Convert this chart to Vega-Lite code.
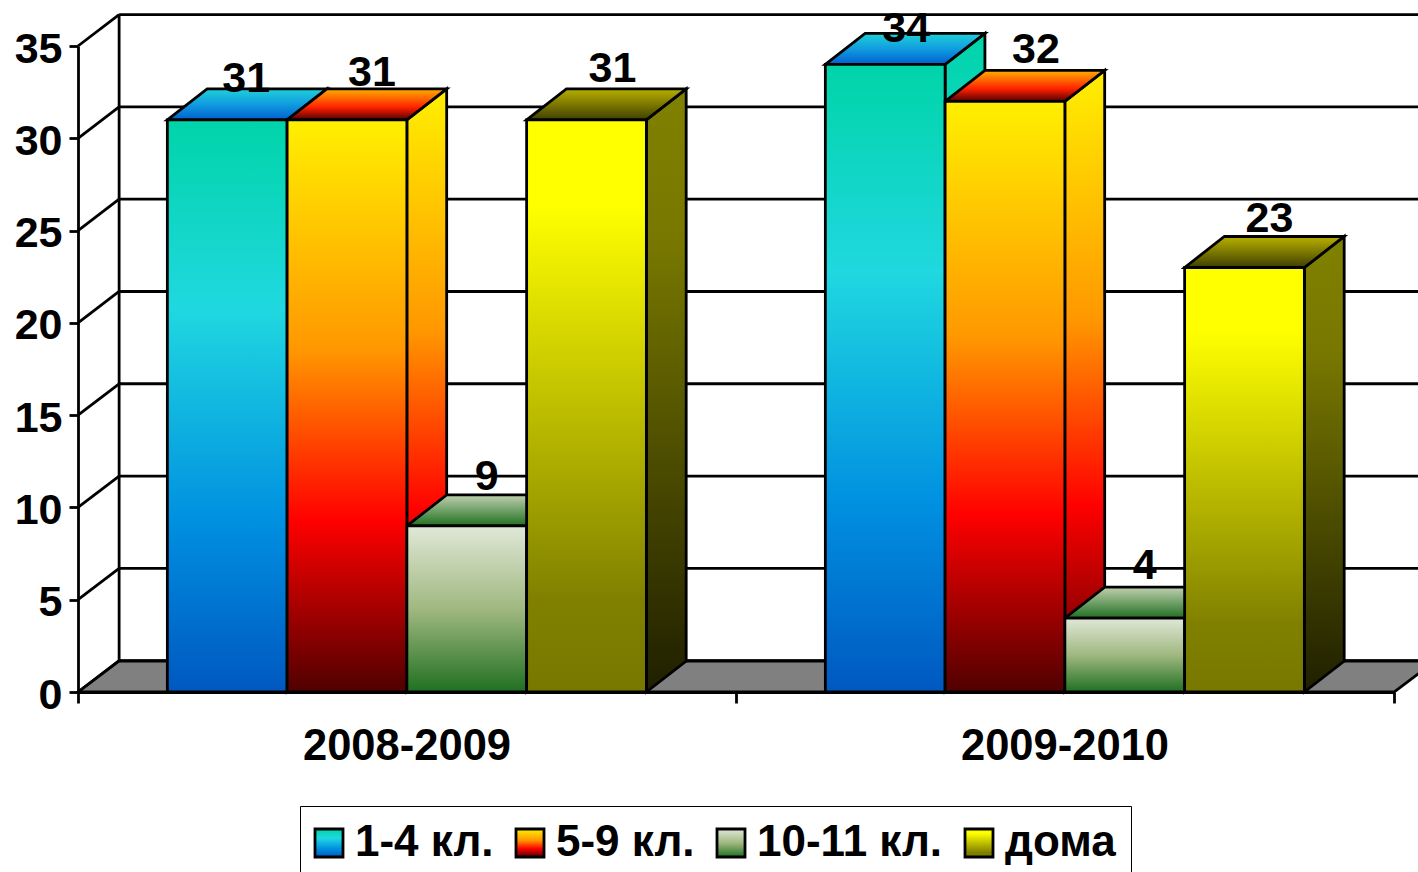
{"$schema":"https://vega.github.io/schema/vega-lite/v6.json","width":1316,"height":646,"padding":{"left":78,"top":46,"right":24,"bottom":180},"autosize":{"type":"none"},"background":"white","config":{"view":{"stroke":null},"font":"Liberation Sans"},
"datasets":{"bars":[{"year":"2008-2009","series":"1-4 кл.","value":31},{"year":"2008-2009","series":"5-9 кл.","value":31},{"year":"2008-2009","series":"10-11 кл.","value":9},{"year":"2008-2009","series":"дома","value":31},{"year":"2009-2010","series":"1-4 кл.","value":34},{"year":"2009-2010","series":"5-9 кл.","value":32},{"year":"2009-2010","series":"10-11 кл.","value":4},{"year":"2009-2010","series":"дома","value":23}],"ticks":[{"v":0},{"v":5},{"v":10},{"v":15},{"v":20},{"v":25},{"v":30},{"v":35}]},
"layer":[
{"data":{"values":[{"k":0},{"k":1},{"k":2},{"k":3}]},"transform":[{"calculate":"[0,0.0625,2,2.0625][datum.k]","as":"px"},{"calculate":"datum.k==3?1.68:0","as":"lo"},{"calculate":"datum.k==0?0:1.68","as":"hi"}],"mark":{"type":"area","fill":"#808080","stroke":"black","strokeWidth":2.8},"encoding":{"x":{"field":"px","type":"quantitative","scale":{"domain":[0,2],"nice":false,"zero":false},"axis":{"values":[0,1,2],"labels":false,"title":null,"grid":false,"domainColor":"black","domainWidth":2.8,"tickColor":"black","tickWidth":2.8,"tickSize":11,"zindex":1}},"y":{"field":"lo","type":"quantitative","scale":{"domain":[0,35],"nice":false},"axis":{"values":[0,5,10,15,20,25,30,35],"title":null,"grid":false,"domainColor":"black","domainWidth":2.8,"tickColor":"black","tickWidth":2.8,"tickSize":9,"labelFontSize":43,"labelFontWeight":"bold","labelColor":"black","labelPadding":7,"labelOffset":3,"labelFont":"Liberation Sans","zindex":1}},"y2":{"field":"hi"}}},
{"data":{"name":"ticks"},"transform":[{"calculate":"datum.v+1.7","as":"b"},{"calculate":"0.0625","as":"l"},{"calculate":"2.0625","as":"r"}],"mark":{"type":"rule","color":"black","strokeWidth":2.8},"encoding":{"x":{"field":"l","type":"quantitative"},"x2":{"field":"r"},"y":{"field":"b","type":"quantitative"}}},
{"data":{"name":"ticks"},"transform":[{"calculate":"datum.v+1.7","as":"b"},{"calculate":"0","as":"l"},{"calculate":"0.0625","as":"r"}],"mark":{"type":"rule","color":"black","strokeWidth":2.8},"encoding":{"x":{"field":"l","type":"quantitative"},"x2":{"field":"r"},"y":{"field":"v","type":"quantitative"},"y2":{"field":"b"}}},
{"data":{"name":"ticks"},"transform":[{"filter":"datum.v==35"},{"calculate":"1.7","as":"lo"},{"calculate":"36.7","as":"hi"},{"calculate":"0.0625","as":"l"}],"mark":{"type":"rule","color":"black","strokeWidth":2.8},"encoding":{"x":{"field":"l","type":"quantitative"},"y":{"field":"lo","type":"quantitative"},"y2":{"field":"hi"}}},
{"data":{"name":"bars"},"transform":[{"calculate":"datum.year=='2008-2009'?0:1","as":"g"},{"calculate":"indexof(['1-4 кл.','5-9 кл.','10-11 кл.','дома'],datum.series)","as":"s"},{"calculate":"datum.g+0.1358+(datum.s+1)*0.182","as":"x1"},{"calculate":"[0,1]","as":"k"},{"flatten":["k"]},{"calculate":"datum.x1+datum.k*0.0605","as":"px"},{"calculate":"datum.k*1.68","as":"lo"},{"calculate":"datum.value+datum.k*1.68","as":"hi"},{"calculate":"datum.year+datum.series","as":"key"}],"mark":{"type":"area","stroke":"black","strokeWidth":2.8},"encoding":{"x":{"field":"px","type":"quantitative"},"y":{"field":"lo","type":"quantitative","stack":null},"y2":{"field":"hi"},"detail":{"field":"key"},"fill":{"field":"series","type":"nominal","legend":null,"scale":{"domain":["1-4 кл.","5-9 кл.","10-11 кл.","дома"],"range":[{"expr":"{gradient:'linear',x1:0,y1:0,x2:0,y2:1,stops:[{offset:0,color:'#00d4a8'},{offset:0.33,color:'#20d8e0'},{offset:0.7,color:'#0090e0'},{offset:1,color:'#0058c0'}]}"},{"expr":"{gradient:'linear',x1:0,y1:0,x2:0,y2:1,stops:[{offset:0,color:'#fff000'},{offset:0.4,color:'#ff9800'},{offset:0.7,color:'#ff0000'},{offset:1,color:'#500000'}]}"},{"expr":"{gradient:'linear',x1:0,y1:0,x2:0,y2:1,stops:[{offset:0,color:'#e0e8d8'},{offset:0.5,color:'#a0b880'},{offset:1,color:'#207020'}]}"},{"expr":"{gradient:'linear',x1:0,y1:0,x2:0,y2:1,stops:[{offset:0,color:'#808000'},{offset:0.25,color:'#787800'},{offset:1,color:'#1f1f00'}]}"}]}}}},
{"data":{"name":"bars"},"transform":[{"calculate":"datum.year=='2008-2009'?0:1","as":"g"},{"calculate":"indexof(['1-4 кл.','5-9 кл.','10-11 кл.','дома'],datum.series)","as":"s"},{"calculate":"datum.g+0.1358+datum.s*0.182","as":"x0"},{"calculate":"[0,1,2,3]","as":"k"},{"flatten":["k"]},{"calculate":"datum.x0+[0,0.0605,0.182,0.2425][datum.k]","as":"px"},{"calculate":"datum.k==3?datum.value+1.68:datum.value","as":"lo"},{"calculate":"datum.k==0?datum.value:datum.value+1.68","as":"hi"},{"calculate":"datum.year+datum.series","as":"key"}],"mark":{"type":"area","stroke":"black","strokeWidth":2.8},"encoding":{"x":{"field":"px","type":"quantitative"},"y":{"field":"lo","type":"quantitative","stack":null},"y2":{"field":"hi"},"detail":{"field":"key"},"fill":{"field":"series","type":"nominal","legend":null,"scale":{"domain":["1-4 кл.","5-9 кл.","10-11 кл.","дома"],"range":[{"expr":"{gradient:'linear',x1:0,y1:0,x2:0,y2:1,stops:[{offset:0,color:'#20d0d8'},{offset:0.5,color:'#109ce0'},{offset:1,color:'#0060d0'}]}"},{"expr":"{gradient:'linear',x1:0,y1:0,x2:0,y2:1,stops:[{offset:0,color:'#ffb000'},{offset:0.6,color:'#ff2000'},{offset:1,color:'#500000'}]}"},{"expr":"{gradient:'linear',x1:0,y1:0,x2:0,y2:1,stops:[{offset:0,color:'#c0d0b0'},{offset:1,color:'#207020'}]}"},{"expr":"{gradient:'linear',x1:0,y1:0,x2:0,y2:1,stops:[{offset:0,color:'#b8b000'},{offset:1,color:'#404000'}]}"}]}}}},
{"data":{"name":"bars"},"transform":[{"calculate":"datum.year=='2008-2009'?0:1","as":"g"},{"calculate":"indexof(['1-4 кл.','5-9 кл.','10-11 кл.','дома'],datum.series)","as":"s"},{"calculate":"datum.g+0.1358+datum.s*0.182","as":"x0"},{"calculate":"datum.x0+0.182","as":"x1"},{"calculate":"0","as":"base"}],"mark":{"type":"bar","stroke":"black","strokeWidth":2.8},"encoding":{"x":{"field":"x0","type":"quantitative"},"x2":{"field":"x1"},"y":{"field":"value","type":"quantitative"},"y2":{"field":"base"},"fill":{"field":"series","type":"nominal","scale":{"domain":["1-4 кл.","5-9 кл.","10-11 кл.","дома"],"range":[{"expr":"{gradient:'linear',x1:0,y1:0,x2:0,y2:1,stops:[{offset:0,color:'#00d4a8'},{offset:0.33,color:'#20d8e0'},{offset:0.7,color:'#0090e0'},{offset:1,color:'#0058c0'}]}"},{"expr":"{gradient:'linear',x1:0,y1:0,x2:0,y2:1,stops:[{offset:0,color:'#fff000'},{offset:0.4,color:'#ff9800'},{offset:0.7,color:'#ff0000'},{offset:1,color:'#500000'}]}"},{"expr":"{gradient:'linear',x1:0,y1:0,x2:0,y2:1,stops:[{offset:0,color:'#e0e8d8'},{offset:0.5,color:'#a0b880'},{offset:1,color:'#207020'}]}"},{"expr":"{gradient:'linear',x1:0,y1:0,x2:0,y2:1,stops:[{offset:0,color:'#ffff00'},{offset:0.15,color:'#ffff00'},{offset:0.84,color:'#808000'},{offset:1,color:'#787800'}]}"}]},"legend":{"title":null,"orient":"none","legendX":222,"legendY":760,"direction":"horizontal","columns":4,"gridAlign":"none","symbolType":"square","symbolSize":784,"symbolOffset":-8,"symbolStrokeColor":"black","symbolStrokeWidth":2.8,"labelFontSize":44,"labelFontWeight":"bold","labelColor":"black","labelFont":"Liberation Sans","labelOffset":4,"columnPadding":16,"strokeColor":"black","fillColor":"white","padding":15,"labelLimit":400}}}},
{"data":{"name":"bars"},"transform":[{"calculate":"datum.year=='2008-2009'?0:1","as":"g"},{"calculate":"indexof(['1-4 кл.','5-9 кл.','10-11 кл.','дома'],datum.series)","as":"s"},{"calculate":"datum.g+0.1358+(datum.s+0.5)*0.182+[19,25,20,26,21,31,20,25][datum.g*4+datum.s]/658","as":"lx"},{"calculate":"datum.value+[41,47,49,51,35,51,52,48][datum.g*4+datum.s]/18.457","as":"ly"}],"mark":{"type":"text","fontSize":43,"fontWeight":"bold","font":"Liberation Sans","color":"black","baseline":"middle","align":"center"},"encoding":{"x":{"field":"lx","type":"quantitative"},"y":{"field":"ly","type":"quantitative"},"text":{"field":"value","type":"quantitative"}}},
{"data":{"values":[{"year":"2008-2009","c":0.5},{"year":"2009-2010","c":1.5}]},"transform":[{"calculate":"0","as":"b"}],"mark":{"type":"text","fontSize":43.5,"fontWeight":"bold","font":"Liberation Sans","color":"black","baseline":"middle","align":"center","dy":55},"encoding":{"x":{"field":"c","type":"quantitative"},"y":{"field":"b","type":"quantitative"},"text":{"field":"year","type":"nominal"}}}
],"resolve":{"scale":{"fill":"independent"},"legend":{"fill":"independent"}}}
